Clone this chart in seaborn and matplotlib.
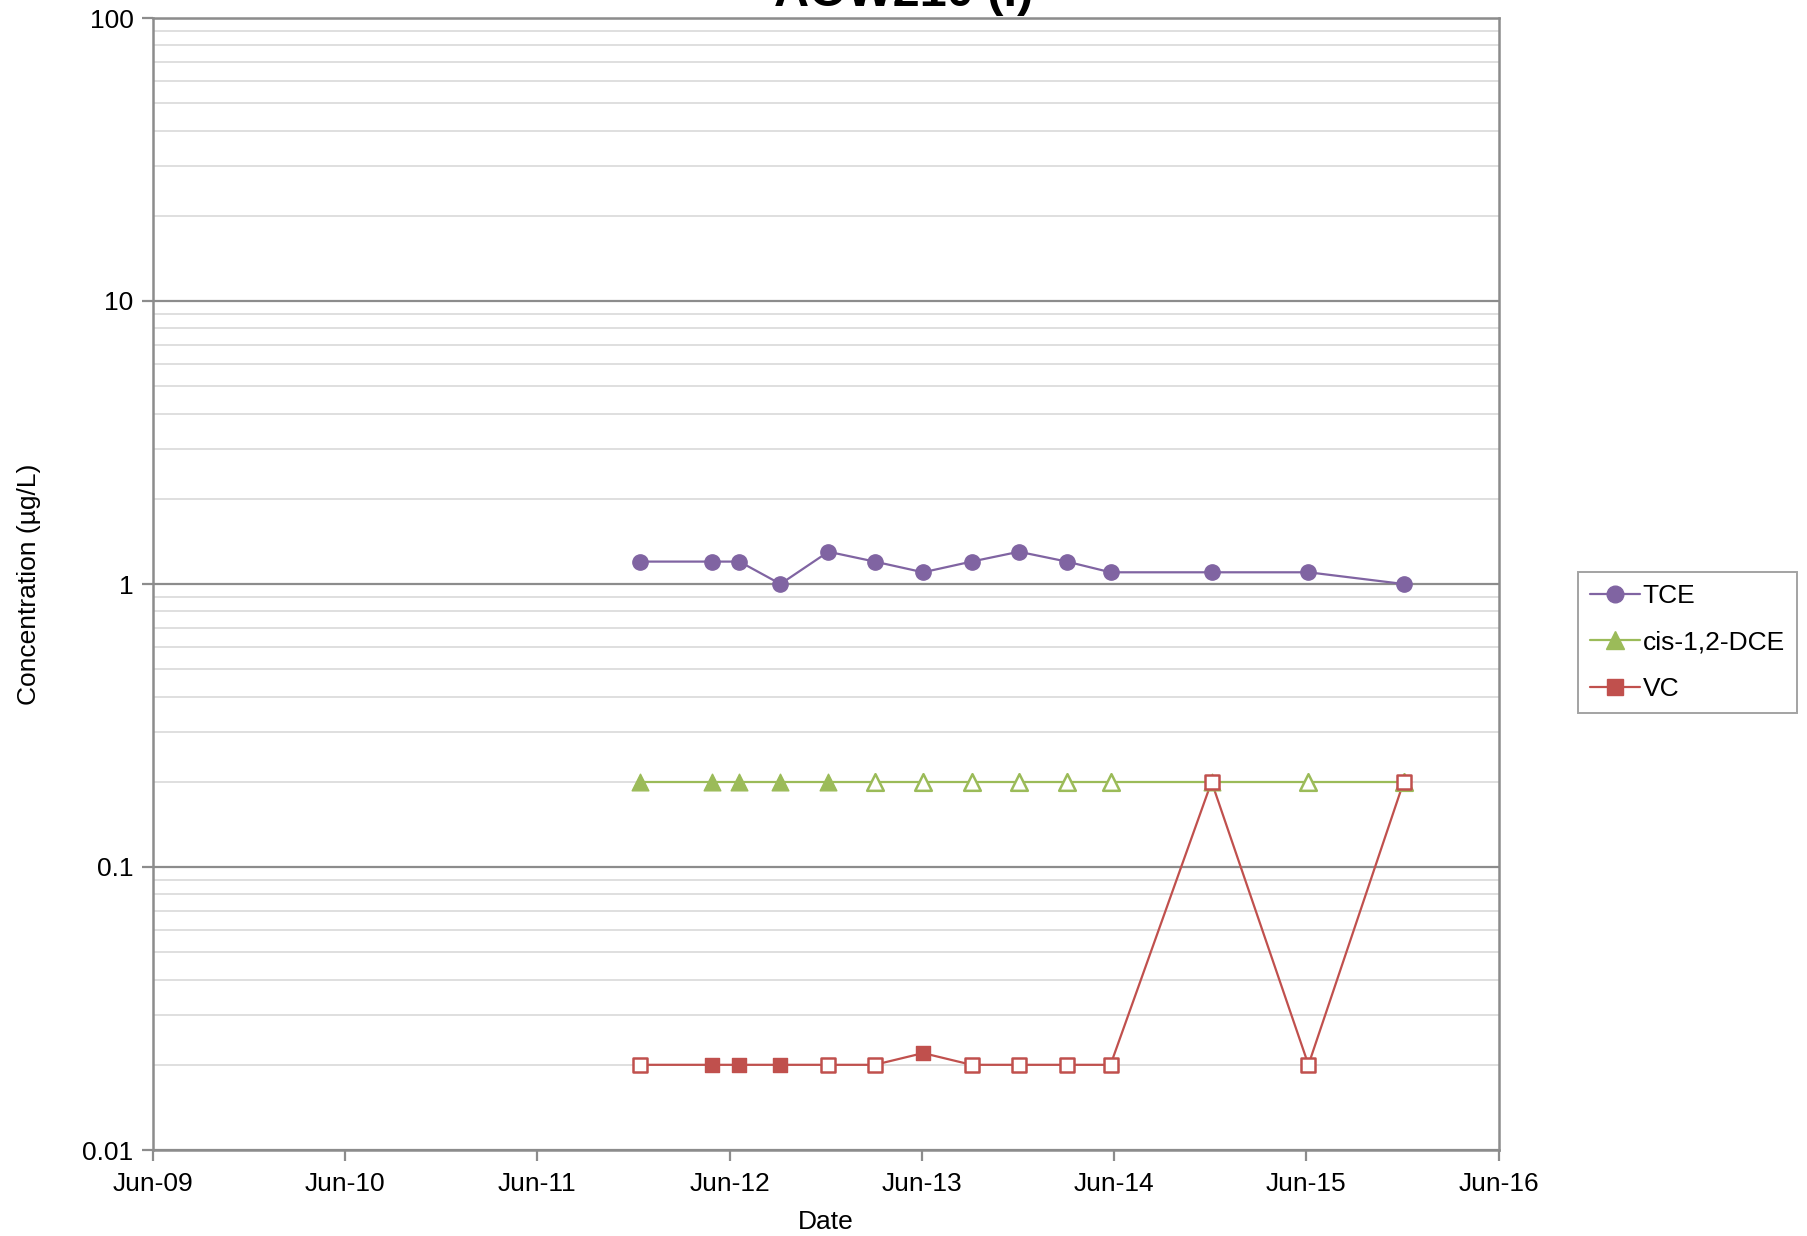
import numpy as np
import pandas as pd
import seaborn as sns
import matplotlib.pyplot as plt
import matplotlib.dates as mdates
from matplotlib.lines import Line2D
from matplotlib.ticker import LogLocator, NullFormatter, FixedLocator, FixedFormatter

# Sample dates
dates = pd.to_datetime([
    "2011-12-13", "2012-04-27", "2012-06-19", "2012-09-05", "2012-12-05",
    "2013-03-03", "2013-06-03", "2013-09-03", "2013-12-02", "2014-03-03",
    "2014-05-25", "2014-12-03", "2015-06-05", "2015-12-03",
])

# Concentrations (ug/L) and detect flags (False = non-detect, open marker)
tce = [1.2, 1.2, 1.2, 1.0, 1.3, 1.2, 1.1, 1.2, 1.3, 1.2, 1.1, 1.1, 1.1, 1.0]
tce_det = [True] * 14
dce = [0.2] * 14
dce_det = [True, True, True, True, True, False, False, False, False, False,
           False, True, False, False]
vc = [0.02, 0.02, 0.02, 0.02, 0.02, 0.02, 0.022, 0.02, 0.02, 0.02, 0.02,
      0.2, 0.02, 0.2]
vc_det = [False, True, True, True, False, False, True, False, False, False,
          False, False, False, False]

series = [
    ("TCE", tce, tce_det, "#8064a2", "o", 11),
    ("cis-1,2-DCE", dce, dce_det, "#9bbb59", "^", 12),
    ("VC", vc, vc_det, "#c0504d", "s", 10.5),
]

sns.set_style("white", {"text.color": "black", "axes.labelcolor": "black",
                        "xtick.color": "black", "ytick.color": "black"})
plt.rcParams['font.family'] = ['Liberation Sans', 'DejaVu Sans']

fig = plt.figure(figsize=(18.08, 12.36), dpi=100)
ax = fig.add_axes([153 / 1808, 1 - 1150 / 1236, (1499 - 153) / 1808, (1150 - 18) / 1236])

for name, vals, det, color, mk, ms in series:
    df = pd.DataFrame({"Date": dates, "Conc": vals, "det": det})
    sns.lineplot(data=df, x="Date", y="Conc", color=color, lw=1.6, ax=ax, zorder=3)
    d = df[df["det"]]
    nd = df[~df["det"]]
    if len(d):
        sns.scatterplot(data=d, x="Date", y="Conc", color=color, marker=mk,
                        s=ms ** 2, edgecolor=color, linewidth=1, ax=ax, zorder=4)
    if len(nd):
        ax.scatter(nd["Date"], nd["Conc"], marker=mk, s=ms ** 2, facecolors="white",
                   edgecolors=color, linewidths=1.8, zorder=4)

ax.set_yscale("log")
ax.set_ylim(0.01, 100)
ax.set_xlim(pd.Timestamp("2009-06-01"), pd.Timestamp("2016-06-01"))

years = pd.to_datetime([f"{y}-06-01" for y in range(2009, 2017)])
ax.xaxis.set_major_locator(FixedLocator(mdates.date2num(years)))
ax.xaxis.set_major_formatter(mdates.DateFormatter("%b-%y"))

ax.yaxis.set_major_locator(FixedLocator([0.01, 0.1, 1, 10, 100]))
ax.yaxis.set_major_formatter(FixedFormatter(["0.01", "0.1", "1", "10", "100"]))
ax.yaxis.set_minor_locator(LogLocator(base=10, subs=np.arange(2, 10)))
ax.yaxis.set_minor_formatter(NullFormatter())

ax.grid(axis="y", which="major", color="#8c8c8c", lw=1.6, zorder=0)
ax.grid(axis="y", which="minor", color="#d9d9d9", lw=1.2, zorder=0)
ax.grid(axis="x", visible=False)

for s in ax.spines.values():
    s.set_color("#8c8c8c")
    s.set_linewidth(1.8)

ax.tick_params(axis="x", which="major", direction="out", length=8, width=1.6,
               color="#8c8c8c", labelcolor="black", labelsize=19, pad=8, bottom=True)
ax.tick_params(axis="y", which="major", direction="out", length=8, width=1.6,
               color="#8c8c8c", labelcolor="black", labelsize=19, pad=6, left=True)
ax.tick_params(axis="y", which="minor", length=0)

ax.set_xlabel("Date", fontsize=19, labelpad=10, color="black")
ax.set_ylabel("Concentration (µg/L)", fontsize=19, labelpad=30, color="black")

fig.text(0.5, 1 + 6 / 1236, "AOW210 (I)", ha="center", va="center",
         fontsize=35, fontweight="bold", color="black")

handles = [Line2D([], [], color=c, marker=m, markersize=ms + 1, lw=1.6, markeredgecolor=c)
           for _, _, _, c, m, ms in series]
leg = fig.legend(handles, [s[0] for s in series], loc="upper left",
                 bbox_to_anchor=(1578 / 1808, 1 - 572 / 1236), frameon=True,
                 fontsize=19, handlelength=1.9, handletextpad=0.1, labelspacing=0.85,
                 borderpad=0.45, borderaxespad=0, fancybox=False)
leg.get_frame().set_edgecolor("#8c8c8c")
leg.get_frame().set_linewidth(1.4)
for t in leg.get_texts():
    t.set_color("black")

fig.savefig("out.png", dpi=100)
